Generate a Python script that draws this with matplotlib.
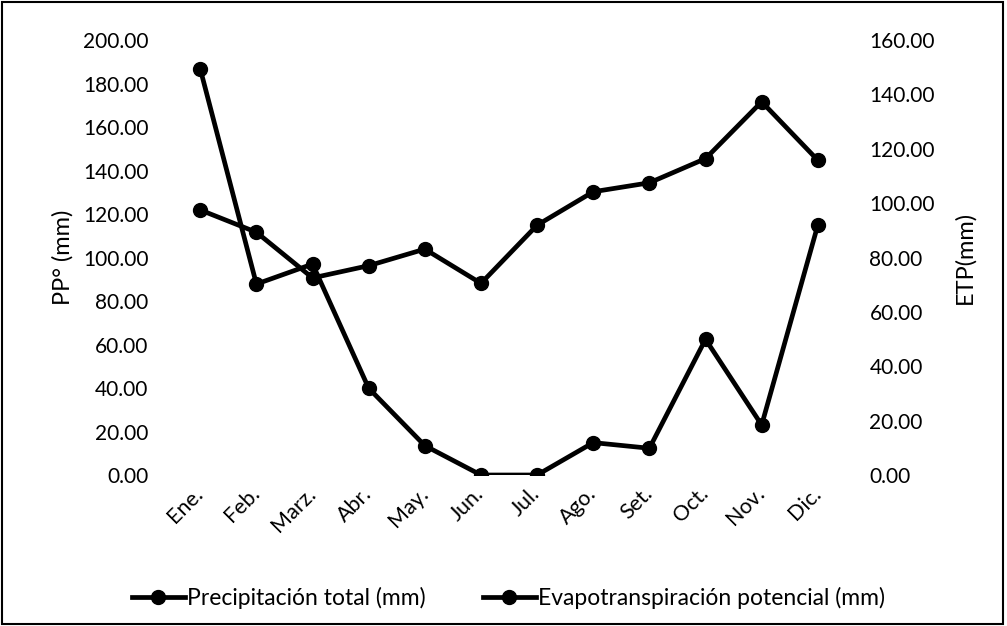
import matplotlib
matplotlib.use("Agg")
import matplotlib.pyplot as plt
from matplotlib.patches import Rectangle

# Datos
meses = ['Ene.', 'Feb.', 'Marz.', 'Abr.', 'May.', 'Jun.', 'Jul.', 'Ago.', 'Set.', 'Oct.', 'Nov.', 'Dic.']
precipitacion = [186.7, 87.8, 97.0, 39.9, 13.5, 0.0, 0.0, 14.9, 12.3, 62.4, 23.0, 114.9]
etp = [97.5, 89.3, 72.5, 77.0, 83.1, 70.5, 91.9, 104.2, 107.5, 116.4, 137.3, 115.8]

pp_ticks = [0, 20, 40, 60, 80, 100, 120, 140, 160, 180, 200]
etp_ticks = [0, 20, 40, 60, 80, 100, 120, 140, 160]

plt.rcParams['font.family'] = ['Lato', 'DejaVu Sans']
plt.rcParams['font.size'] = 15.5

fig = plt.figure(figsize=(10.07, 6.26), dpi=100)
ax = fig.add_axes([0.171, 0.2412, 0.669, 0.6948])
ax2 = ax.twinx()

x = list(range(len(meses)))
l1, = ax.plot(x, precipitacion, color='black', lw=3.4, marker='o', markersize=10,
              label='Precipitación total (mm)', zorder=3)
l2, = ax2.plot(x, etp, color='black', lw=3.4, marker='o', markersize=10,
               label='Evapotranspiración potencial (mm)', zorder=3)

ax.set_xlim(-0.5, len(meses) - 0.5)
ax.set_ylim(0, 200)
ax2.set_ylim(0, 160)
ax.set_yticks(pp_ticks)
ax.set_yticklabels([f'{v:.2f}' for v in pp_ticks])
ax2.set_yticks(etp_ticks)
ax2.set_yticklabels([f'{v:.2f}' for v in etp_ticks])
ax.set_xticks(x)
ax.set_xticklabels(meses, rotation=45, ha='right', va='center', rotation_mode='anchor')

for a in (ax, ax2):
    for s in a.spines.values():
        s.set_visible(False)
    a.tick_params(length=0)
ax.tick_params(axis='y', pad=17, labelsize=15)
ax2.tick_params(axis='y', pad=17, labelsize=15)
ax.tick_params(axis='x', pad=11)

ax.set_ylabel('PP° (mm)', labelpad=7, fontsize=17)
ax2.set_ylabel('ETP(mm)', labelpad=14, fontsize=17)

fig.legend(handles=[l1, l2], loc='center', bbox_to_anchor=(0.505, 0.045), ncol=2,
           frameon=False, handlelength=2.3, handletextpad=0.1, columnspacing=2.5,
           fontsize=16.5)

# marco exterior
fig.patches.append(Rectangle((0.002, 0.003), 0.994, 0.994, transform=fig.transFigure,
                             fill=False, edgecolor='black', lw=1.5))

fig.savefig('out.png', dpi=100)
